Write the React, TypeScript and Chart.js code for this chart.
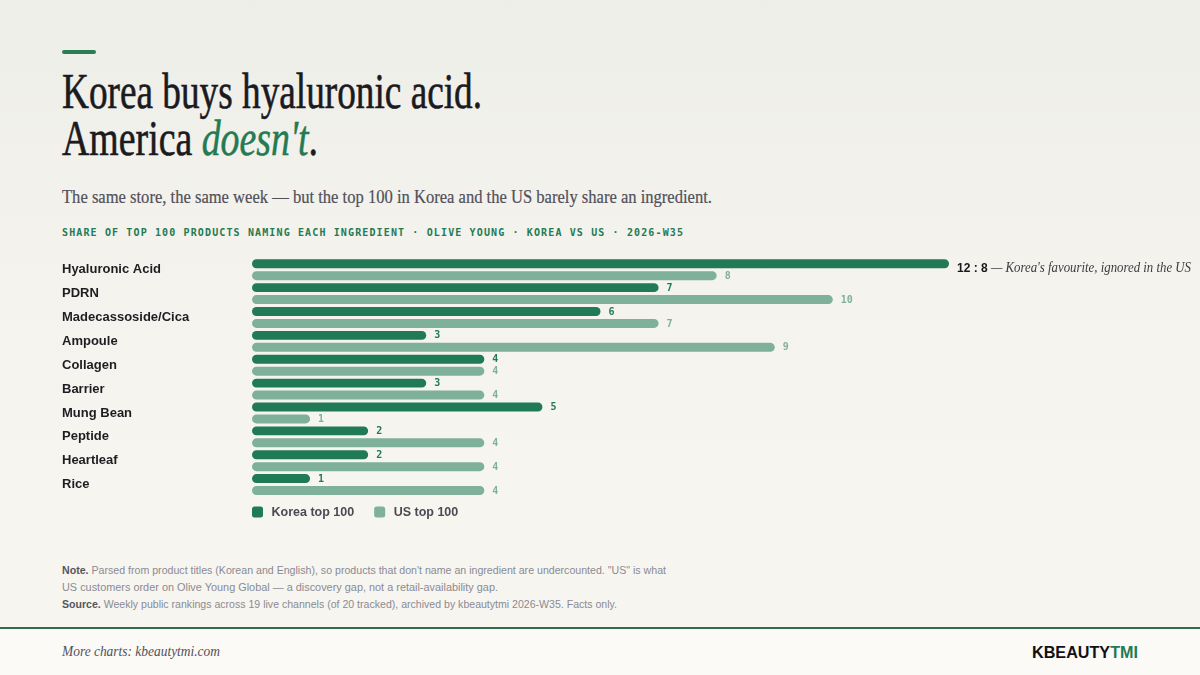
import React, { useEffect, useLayoutEffect, useRef } from 'react';
import { Chart, registerables } from 'chart.js';

Chart.register(...registerables);

// ---------- data ----------
const categories = [
  'Hyaluronic Acid',
  'PDRN',
  'Madecassoside/Cica',
  'Ampoule',
  'Collagen',
  'Barrier',
  'Mung Bean',
  'Peptide',
  'Heartleaf',
  'Rice',
];
const koreaValues = [12, 7, 6, 3, 4, 3, 5, 2, 2, 1];
const usValues = [8, 10, 7, 9, 4, 4, 1, 4, 4, 4];
const seriesLabels = ['Korea top 100', 'US top 100'];
const xMax = 12;
const calloutIndex = 0;
const calloutLead = '12 : 8';
const calloutText = " \u2014 Korea's favourite, ignored in the US";

// ---------- styles ----------
const KOREA = '#1f7a55';
const US = '#7fb09a';
const GREEN_TEXT = '#247a53';
const SANS = '"Liberation Sans", Arial, Helvetica, sans-serif';
const SERIF = '"Liberation Serif", "Times New Roman", serif';
const MONO = '"DejaVu Sans Mono", monospace';

function Fit({ width, style, children }: { width: number; style?: React.CSSProperties; children: React.ReactNode }) {
  const ref = useRef<HTMLSpanElement>(null);
  useLayoutEffect(() => {
    const el = ref.current;
    if (!el) return;
    el.style.transform = 'none';
    const w = el.getBoundingClientRect().width;
    if (w > 0) el.style.transform = `scaleX(${width / w})`;
  }, [width]);
  return (
    <span
      ref={ref}
      style={{ display: 'inline-block', whiteSpace: 'nowrap', transformOrigin: '0 0', ...style }}
    >
      {children}
    </span>
  );
}

const overlayPlugin = {
  id: 'overlay',
  afterDatasetsDraw(chart: any) {
    const { ctx, chartArea } = chart;
    const labelColors = [KOREA, US];
    ctx.save();
    // value labels
    chart.data.datasets.forEach((ds: any, di: number) => {
      const meta = chart.getDatasetMeta(di);
      meta.data.forEach((bar: any, i: number) => {
        if (di === 0 && i === calloutIndex) return;
        ctx.font = `bold 10px ${MONO}`;
        ctx.fillStyle = labelColors[di];
        ctx.textAlign = 'left';
        ctx.textBaseline = 'middle';
        ctx.fillText(String(ds.data[i]), bar.x + 8, bar.y + 0.5);
      });
    });
    // callout
    const cbar = chart.getDatasetMeta(0).data[calloutIndex];
    const cy = chart.scales.y.getPixelForValue(calloutIndex);
    const base = cy + 2.5;
    let x = cbar.x + 8;
    ctx.textAlign = 'left';
    ctx.textBaseline = 'alphabetic';
    ctx.font = `bold 12px ${SANS}`;
    ctx.fillStyle = '#17171c';
    ctx.fillText(calloutLead, x, base);
    x += ctx.measureText(calloutLead).width;
    ctx.font = `italic 14px ${SERIF}`;
    ctx.fillStyle = '#3a3a42';
    const w = ctx.measureText(calloutText).width;
    const target = chart.width - 9 - x;
    const s = Math.min(1, target / w);
    ctx.save();
    ctx.translate(x, base);
    ctx.scale(s, 1);
    ctx.fillText(calloutText, 0, 0);
    ctx.restore();

    // legend
    let lx = chartArea.left;
    const ly = chartArea.bottom + 10;
    ctx.font = `bold 12.5px ${SANS}`;
    ctx.textBaseline = 'middle';
    chart.data.datasets.forEach((ds: any) => {
      ctx.fillStyle = ds.backgroundColor;
      ctx.beginPath();
      (ctx as any).roundRect(lx, ly, 11, 11, 2.5);
      ctx.fill();
      ctx.fillStyle = '#4a4a54';
      ctx.fillText(ds.label, lx + 11 + 8.5, ly + 6);
      lx += 11 + 8.5 + ctx.measureText(ds.label).width + 20;
    });
    ctx.restore();
  },
};

function BarChart() {
  const canvasRef = useRef<HTMLCanvasElement>(null);
  useEffect(() => {
    const canvas = canvasRef.current;
    if (!canvas) return;
    const chart = new Chart(canvas, {
      type: 'bar',
      data: {
        labels: categories,
        datasets: [
          {
            label: seriesLabels[0],
            data: koreaValues,
            backgroundColor: KOREA,
            borderRadius: 4.5,
            borderSkipped: false,
            barPercentage: 0.75,
            categoryPercentage: 1,
          },
          {
            label: seriesLabels[1],
            data: usValues,
            backgroundColor: US,
            borderRadius: 4.5,
            borderSkipped: false,
            barPercentage: 0.75,
            categoryPercentage: 1,
          },
        ],
      },
      options: {
        indexAxis: 'y',
        responsive: false,
        animation: false,
        events: [],
        layout: { padding: { top: 6.5, right: 251, bottom: 30.5, left: 0 } },
        scales: {
          x: { display: false, min: 0, max: xMax },
          y: {
            grid: { display: false },
            border: { display: false },
            ticks: {
              crossAlign: 'far',
              padding: 0,
              color: '#1d1d22',
              font: { family: SANS, size: 13, weight: 'bold' },
            },
            afterFit: (scale: any) => {
              scale.width = 190;
            },
          },
        },
        plugins: {
          legend: { display: false },
          tooltip: { enabled: false },
        },
      },
      plugins: [overlayPlugin],
    } as any);
    return () => chart.destroy();
  }, []);
  return <canvas ref={canvasRef} width={1138} height={277} style={{ display: 'block' }} />;
}

export default function App() {
  const abs = (o: React.CSSProperties): React.CSSProperties => ({ position: 'absolute', ...o });
  return (
    <div
      style={{
        position: 'absolute',
        left: 0,
        top: 0,
        width: 1200,
        height: 675,
        overflow: 'hidden',
        background: 'linear-gradient(180deg, #eeeee8 0%, #f3f2ec 35%, #f7f5f0 70%, #f7f5f0 100%)',
      }}
    >
      <div style={abs({ left: 62, top: 50, width: 34, height: 4, borderRadius: 2, background: '#2a7d57' })} />
      <div
        style={abs({
          left: 62,
          top: 65.8,
          font: `50px/50px ${SERIF}`,
          color: '#1a1a1f',
          WebkitTextStroke: '0.6px #1a1a1f',
        })}
      >
        <Fit width={420}>Korea buys hyaluronic acid.</Fit>
      </div>
      <div
        style={abs({
          left: 62,
          top: 113.1,
          font: `50px/50px ${SERIF}`,
          color: '#1a1a1f',
          WebkitTextStroke: '0.6px #1a1a1f',
        })}
      >
        <Fit width={256}>
          America{' '}
          <span style={{ fontStyle: 'italic', color: GREEN_TEXT, WebkitTextStroke: `0.5px ${GREEN_TEXT}` }}>
            doesn't
          </span>
          .
        </Fit>
      </div>
      <div
        style={abs({
          left: 62,
          top: 186.8,
          font: `19px/19px ${SERIF}`,
          color: '#50505a',
          WebkitTextStroke: '0.2px #50505a',
        })}
      >
        <Fit width={650}>
          The same store, the same week — but the top 100 in Korea and the US barely share an ingredient.
        </Fit>
      </div>
      <div
        style={abs({
          left: 62,
          top: 227.5,
          font: `bold 10px/10px ${MONO}`,
          letterSpacing: '1.13px',
          color: GREEN_TEXT,
          whiteSpace: 'nowrap',
        })}
      >
        SHARE OF TOP 100 PRODUCTS NAMING EACH INGREDIENT · OLIVE YOUNG · KOREA VS US · 2026-W35
      </div>

      <div style={abs({ left: 62, top: 250 })}>
        <BarChart />
      </div>

      <div style={abs({ left: 62, top: 562, font: `10.5px/17px ${SANS}`, color: '#8a8a92' })}>
        <div>
          <Fit width={604}>
            <b style={{ color: '#55555d' }}>Note.</b> Parsed from product titles (Korean and English), so products that
            don't name an ingredient are undercounted. "US" is what
          </Fit>
        </div>
        <div>
          <Fit width={436}>US customers order on Olive Young Global — a discovery gap, not a retail-availability gap.</Fit>
        </div>
        <div>
          <Fit width={555}>
            <b style={{ color: '#55555d' }}>Source.</b> Weekly public rankings across 19 live channels (of 20 tracked),
            archived by kbeautytmi 2026-W35. Facts only.
          </Fit>
        </div>
      </div>

      <div
        style={abs({
          left: 0,
          top: 627,
          width: 1200,
          height: 48,
          background: '#fbfaf6',
          borderTop: '2px solid #2e6d4e',
          boxSizing: 'border-box',
        })}
      />
      <div style={abs({ left: 62, top: 644.4, font: `italic 15px/15px ${SERIF}`, color: '#50505a' })}>
        <Fit width={158}>More charts: kbeautytmi.com</Fit>
      </div>
      <div style={abs({ left: 1032, top: 644, font: `bold 16.5px/16.5px ${SANS}`, color: '#111114' })}>
        <Fit width={106}>
          KBEAUTY<span style={{ color: '#1f7a55' }}>TMI</span>
        </Fit>
      </div>
    </div>
  );
}
